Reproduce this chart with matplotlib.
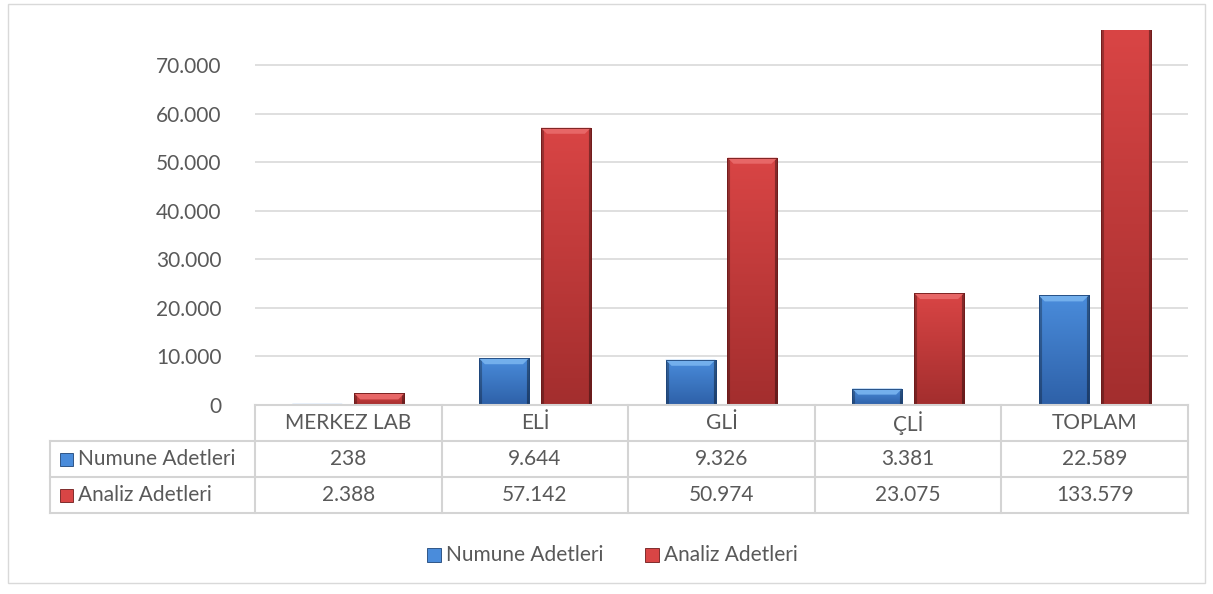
import numpy as np
import matplotlib
matplotlib.use("Agg")
import matplotlib.pyplot as plt
from matplotlib.patches import Rectangle, Polygon
from matplotlib.ticker import FuncFormatter

plt.rcParams['font.family'] = ['Lato', 'DejaVu Sans']

categories = ["MERKEZ LAB", "ELİ", "GLİ", "ÇLİ", "TOPLAM"]
numune = [238, 9644, 9326, 3381, 22589]
analiz = [2388, 57142, 50974, 23075, 133579]
series_names = ["Numune Adetleri", "Analiz Adetleri"]

W, H = 1213, 594
FS = 15
txt_c = '#595959'
fig = plt.figure(figsize=(W / 100, H / 100), dpi=100)

# pixel layout of the plot area
px_left, px_right, px_zero, px_top = 255, 1188, 405, 30
ax = fig.add_axes([px_left / W, 1 - px_zero / H,
                   (px_right - px_left) / W, (px_zero - px_top) / H])
ymax = 77300
for s in ax.spines.values():
    s.set_visible(False)
ax.set_xticks([])
ax.set_yticks(np.arange(0, 70001, 10000))
ax.yaxis.set_major_formatter(FuncFormatter(lambda v, p: f"{int(v):,}".replace(",", ".")))
ax.tick_params(axis='y', length=0, pad=24, labelsize=FS, labelcolor=txt_c)
ax.grid(axis='y', color='#d9d9d9', linewidth=1.2)
ax.set_axisbelow(True)

# data units per pixel
dx = len(categories) / (px_right - px_left)
dy = ymax / (px_zero - px_top)

styles = {
    0: dict(top=(0.29, 0.55, 0.86), bot=(0.18, 0.38, 0.66), bevel='#73afec', edge='#1d4478'),
    1: dict(top=(0.85, 0.27, 0.27), bot=(0.64, 0.18, 0.18), bevel='#e76767', edge='#6e1a1a'),
}


def grad_bar(ax, x0, w, h, st):
    hh = min(h, ymax)
    n = 64
    t = np.linspace(0, 1, n)[:, None]
    top = np.array(st['top']); bot = np.array(st['bot'])
    img = top[None, None, :] * (1 - t[..., None]) + bot[None, None, :] * t[..., None]
    cols = 50
    shade = np.ones(cols)
    shade[:3] = 0.72
    shade[-3:] = 0.62
    img = np.clip(img * shade[None, :, None], 0, 1)
    patch = Rectangle((x0, 0), w, hh, facecolor='none', edgecolor='none')
    ax.add_patch(patch)
    im = ax.imshow(img, extent=(x0, x0 + w, 0, hh), aspect='auto', origin='upper',
                   interpolation='bilinear', zorder=2)
    im.set_clip_path(patch)
    if h < ymax:
        # top bevel and full outline
        b = 6
        bev = Polygon([(x0, h), (x0 + w, h), (x0 + w - b * dx, h - b * dy), (x0 + b * dx, h - b * dy)],
                      closed=True, facecolor=st['bevel'], edgecolor='none', zorder=3)
        ax.add_patch(bev)
        ax.add_patch(Rectangle((x0, 0), w, hh, facecolor='none', edgecolor=st['edge'],
                               linewidth=0.6, zorder=4))
    else:
        # bar runs past the top: only side edges
        for xe in (x0, x0 + w):
            ax.plot([xe, xe], [0, hh], color=st['edge'], lw=0.6, zorder=4)


bw = 0.268
off = 0.166
x = np.arange(len(categories))
for i, vals in enumerate([numune, analiz]):
    for xi, v in zip(x, vals):
        cx = xi + (off if i else -off)
        grad_bar(ax, cx - bw / 2, bw, v, styles[i])

ax.set_ylim(0, ymax)
ax.set_xlim(-0.5, len(categories) - 0.5)

# data table below the plot
tb_left, tb_bottom = 50, 513
tax = fig.add_axes([tb_left / W, 1 - tb_bottom / H,
                    (px_right - tb_left) / W, (tb_bottom - px_zero) / H])
xl = -0.5 - (px_left - tb_left) * dx
tax.set_xlim(xl, len(categories) - 0.5)
tax.set_ylim(3, 0)
tax.axis('off')
lc = '#d4d4d4'
rpx = (tb_bottom - px_zero) / 3  # row height in px
tax.plot([-0.5, len(categories) - 0.5], [0, 0], color=lc, lw=1.5, clip_on=False)
for r in (1, 2, 3):
    tax.plot([xl, len(categories) - 0.5], [r, r], color=lc, lw=1.5, clip_on=False)
for b in np.arange(-0.5, len(categories), 1.0):
    tax.plot([b, b], [0, 3], color=lc, lw=1.5, clip_on=False)
tax.plot([xl, xl], [1, 3], color=lc, lw=1.5, clip_on=False)

for xi, c in enumerate(categories):
    tax.text(xi, 0.5, c, ha='center', va='center', fontsize=FS, color=txt_c)
for r, vals in enumerate([numune, analiz]):
    for xi, v in enumerate(vals):
        tax.text(xi, r + 1.5, f"{v:,}".replace(",", "."), ha='center', va='center',
                 fontsize=FS, color=txt_c)
    sq = 13
    tax.add_patch(Rectangle((xl + 10 * dx, r + 1.5 - sq / rpx / 2), sq * dx, sq / rpx,
                            facecolor=styles[r]['top'], edgecolor=styles[r]['edge'], lw=0.6))
    tax.text(xl + 28 * dx, r + 1.5, series_names[r], ha='left', va='center',
             fontsize=FS, color=txt_c)

# legend at the bottom
ly = 555
for i, (sx, tx) in enumerate([(427, 446), (645, 664)]):
    fig.patches.append(Rectangle((sx / W, 1 - (ly + 7) / H), 14 / W, 14 / H,
                                 transform=fig.transFigure, facecolor=styles[i]['top'],
                                 edgecolor=styles[i]['edge'], lw=0.6))
    fig.text(tx / W, 1 - ly / H, series_names[i], ha='left', va='center',
             fontsize=FS, color=txt_c)

# chart border
fig.patches.append(Rectangle((8 / W, 1 - 583 / H), (1205 - 8) / W, (583 - 4) / H,
                             transform=fig.transFigure, facecolor='none',
                             edgecolor='#d9d9d9', lw=1))

fig.savefig("out.png", dpi=100)
